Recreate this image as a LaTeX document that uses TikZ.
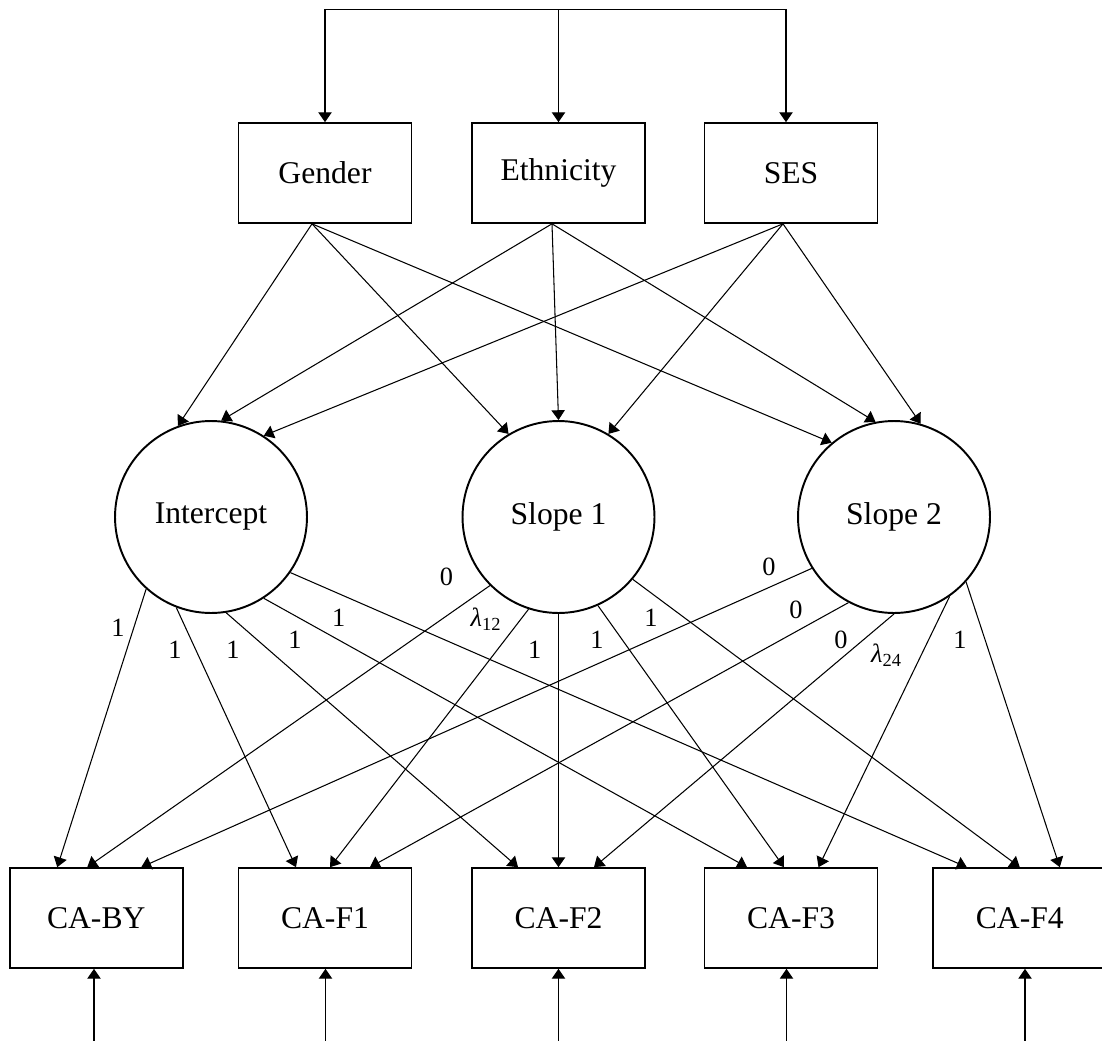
\documentclass[tikz,border=0pt]{standalone}
\usepackage{fontspec}
\setmainfont{Liberation Serif}
\usetikzlibrary{arrows.meta,calc}
\begin{document}
\begin{tikzpicture}[x=0.02cm,y=-0.02cm,
  box/.style={draw, line width=0.95pt, minimum width=3.46cm, minimum height=2cm, inner sep=0pt, font=\fontsize{18}{22}\selectfont},
  latent/.style={draw, circle, line width=1.1pt, minimum size=3.84cm, inner sep=0pt, font=\fontsize{18}{22}\selectfont},
  arr/.style={-{Triangle[length=5.6pt,width=7.6pt]}, line width=0.6pt},
  lab/.style={font=\fontsize{15}{18}\selectfont, inner sep=0pt}]
\useasboundingbox (0,0) rectangle (1102,1041);
% observed
\node[box] (gen) at (325,173) {Gender};
\node[box] (eth) at (558.5,173) {Ethnicity};
\node[box] (ses) at (791,173) {SES};
% latent
\node[latent] (I) at (211,517) {Intercept};
\node[latent] (S1) at (558.5,517) {Slope 1};
\node[latent] (S2) at (894,517) {Slope 2};
% indicators
\node[box] (by) at (96.25,918) {CA-BY};
\node[box] (f1) at (325,918) {CA-F1};
\node[box] (f2) at (558.5,918) {CA-F2};
\node[box] (f3) at (791,918) {CA-F3};
\node[box] (f4) at (1019.8,918) {CA-F4};
% top covariance bracket
\coordinate (top) at (558.5,9.3);
\draw[arr] (top) -- (eth.north);
\draw[arr] (top) -| (gen.north);
\draw[arr] (top) -| ($(ses.north)+(-5,0)$);
% sources
\coordinate (gs) at ($(gen.south)+(-13,0)$);
\coordinate (es) at ($(eth.south)+(-6.5,0)$);
\coordinate (ss) at ($(ses.south)+(-8,0)$);
\draw[arr] (gs) -- (I.110);
\draw[arr] (gs) -- (S1.121.5);
\draw[arr] (gs) -- (S2.130.6);
\draw[arr] (es) -- (I.84.6);
\draw[arr] (es) -- (S1.90);
\draw[arr] (es) -- (S2.101.7);
\draw[arr] (ss) -- (I.57.2);
\draw[arr] (ss) -- (S1.59.3);
\draw[arr] (ss) -- (S2.74.5);
% loadings
\draw[arr] (I.228.3) -- ($(by.north)+(-39,0)$);
\draw[arr] (I.249.5) -- ($(f1.north)+(-29,0)$);
\draw[arr] (I.279.8) -- ($(f2.north)+(-40.5,0)$);
\draw[arr] (I.303.2) -- ($(f3.north)+(-44,0)$);
\draw[arr] (I.325) -- ($(f4.north)+(-53,0)$);
\draw[arr] (S1.225.6) -- ($(by.north)+(-9,0)$);
\draw[arr] (S1.252.4) -- ($(f1.north)+(5,0)$);
\draw[arr] (S1.south) -- (f2.north);
\draw[arr] (S1.294.5) -- ($(f3.north)+(-7,0)$);
\draw[arr] (S1.320.2) -- ($(f4.north)+(0,0)$);
\draw[arr] (S2.212.9) -- ($(by.north)+(45,0)$);
\draw[arr] (S2.242.6) -- ($(f1.north)+(45,0)$);
\draw[arr] (S2.270) -- ($(f2.north)+(35.5,0)$);
\draw[arr] (S2.305) -- ($(f3.north)+(27.5,0)$);
\draw[arr] (S2.318.1) -- ($(f4.north)+(40,0)$);
% residual arrows
\coordinate (b1) at (94,1041);
\coordinate (b2) at (325.5,1041);
\coordinate (b3) at (558.5,1041);
\coordinate (b4) at (786.5,1041);
\coordinate (b5) at (1025,1041);
\draw[arr] (b1) -- (b1 |- by.south);
\draw[arr] (b2) -- (b2 |- f1.south);
\draw[arr] (b3) -- (b3 |- f2.south);
\draw[arr] (b4) -- (b4 |- f3.south);
\draw[arr] (b5) -- (b5 |- f4.south);
% labels
\node[lab] (l1) at (118,628) {1};
\node[lab] (l2) at (175,650) {1};
\node[lab] (l3) at (233,650) {1};
\node[lab] (l4) at (295,640) {1};
\node[lab] (l5) at (338.6,618) {1};
\node[lab] (l6) at (446.5,577) {0};
\node[lab] (l7) at (486,619) {{\itshape λ}\textsubscript{12}};
\node[lab] (l8) at (534.6,650) {1};
\node[lab] (l9) at (597,640) {1};
\node[lab] (l10) at (651,618) {1};
\node[lab] (l11) at (769,567) {0};
\node[lab] (l12) at (796,610) {0};
\node[lab] (l13) at (841,640) {0};
\node[lab] (l14) at (886.5,655) {{\itshape λ}\textsubscript{24}};
\node[lab] (l15) at (960,640) {1};
\end{tikzpicture}
\end{document}
